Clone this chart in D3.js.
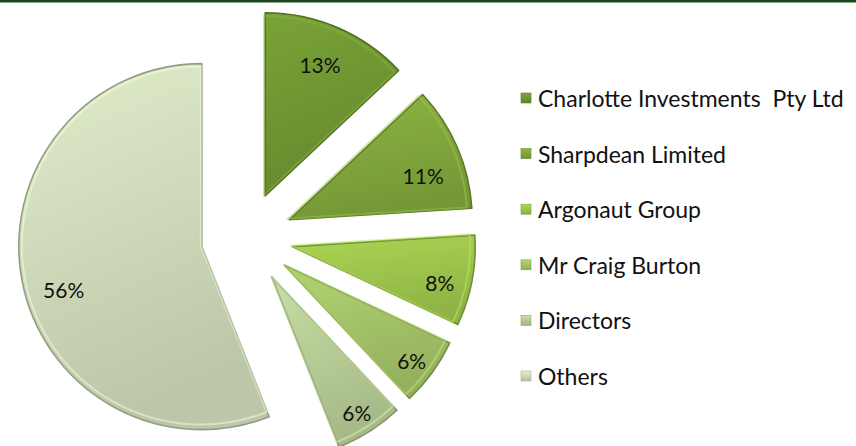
<!DOCTYPE html>
<html><head><meta charset="utf-8">
<script src="https://cdn.jsdelivr.net/npm/d3@7"></script>
<style>html,body{margin:0;padding:0;background:#fff;}svg{display:block;}</style>
</head><body>
<svg id="chart" width="856" height="446"></svg>
<script>
const categories = ["Charlotte Investments  Pty Ltd","Sharpdean Limited","Argonaut Group","Mr Craig Burton","Directors","Others"];
const values = [13, 11, 8, 6, 6, 56];
const labels = ["13%","11%","8%","6%","6%","56%"];
const colors = ["#6f9632","#80a63c","#9cc44c","#a3c267","#b6cb95","#cdd9b9"];
// label placement (fraction of radius, angular nudge in degrees)
const labelRadius = [0.775, 0.77, 0.83, 0.87, 0.875, 0.79];
const labelShift = [-0.7, 5.3, 2.7, 0.8, 0.3, -6.3];

const svg = d3.select("#chart");
const W = 856, H = 446;
svg.append("rect").attr("x",0).attr("y",0).attr("width",W).attr("height",2.5).attr("fill","#17461a");

const cx = 247, cy = 238, r = 183, explode = 46;
const defs = svg.append("defs");
colors.forEach((c,i)=>{
  const g = defs.append("linearGradient").attr("id","g"+i).attr("x1","0").attr("y1","0").attr("x2","0.3").attr("y2","1");
  g.append("stop").attr("offset","0%").attr("stop-color", d3.color(c).brighter(0.25));
  g.append("stop").attr("offset","100%").attr("stop-color", d3.color(c).darker(0.25));
  const lg = defs.append("linearGradient").attr("id","lg"+i).attr("x1","0").attr("y1","0").attr("x2","0").attr("y2","1");
  lg.append("stop").attr("offset","0%").attr("stop-color", d3.color(c).brighter(0.3));
  lg.append("stop").attr("offset","100%").attr("stop-color", d3.color(c).darker(0.35));
});

const pie = d3.pie().sort(null).value(d=>d)(values);
const arc = d3.arc().innerRadius(0).outerRadius(r);
const g = svg.append("g").attr("transform",`translate(${cx},${cy})`);
const slices = g.selectAll("g.s").data(pie).enter().append("g").attr("class","s")
  .attr("transform", d=>{
    const a=(d.startAngle+d.endAngle)/2;
    return `translate(${explode*Math.sin(a)},${-explode*Math.cos(a)})`;
  });
slices.append("path").attr("d",arc).attr("fill",(d,i)=>`url(#g${i})`)
  .attr("stroke",(d,i)=>d3.color(colors[i]).darker(0.9)).attr("stroke-width",1.6).attr("stroke-linejoin","round");
const arcIn = d3.arc().innerRadius(0).outerRadius(r-4);
slices.append("path").attr("d",arcIn).attr("fill","none")
  .attr("stroke",(d,i)=>d3.color(colors[i]).brighter(0.5)).attr("stroke-opacity",0.5).attr("stroke-width",2)
  .attr("transform","translate(-1,-1)");
const la = (d,i)=>(d.startAngle+d.endAngle)/2 + labelShift[i]*Math.PI/180;
slices.append("text")
  .attr("x", (d,i)=>labelRadius[i]*r*Math.sin(la(d,i)))
  .attr("y", (d,i)=>-labelRadius[i]*r*Math.cos(la(d,i)))
  .attr("text-anchor","middle").attr("dominant-baseline","central")
  .attr("font-family","Lato, 'Open Sans', sans-serif").attr("font-size",21).attr("fill","#111")
  .text((d,i)=>labels[i]);

const leg = svg.append("g").attr("transform","translate(521,98)");
const rows = leg.selectAll("g").data(categories).enter().append("g").attr("transform",(d,i)=>`translate(0,${i*55.6})`);
rows.append("rect").attr("x",0).attr("y",-5).attr("width",10).attr("height",10).attr("fill",(d,i)=>`url(#lg${i})`)
  .attr("stroke",(d,i)=>d3.color(colors[i]).darker(0.6)).attr("stroke-width",0.6);
rows.append("text").attr("x",17).attr("y",0).attr("dominant-baseline","central")
  .style("white-space","pre")
  .attr("font-family","Lato, 'Open Sans', sans-serif").attr("font-size",23).attr("fill","#111").text(d=>d);
</script>
</body></html>
